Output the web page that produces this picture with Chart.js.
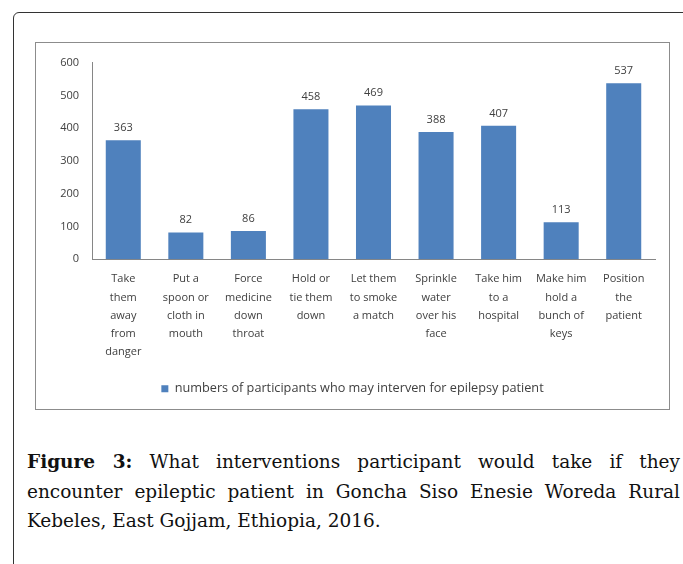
<!DOCTYPE html>
<html>
<head>
<meta charset="utf-8">
<script src="https://cdn.jsdelivr.net/npm/chart.js@4"></script>
<style>
  body { margin: 0; background: #fff; width: 683px; height: 564px; overflow: hidden; position: relative; }
  .frame { position: absolute; left: 13px; top: 12px; width: 720px; height: 600px;
           border: 1.5px solid #333; border-top-left-radius: 6px; }
  .chartbox { position: absolute; left: 35px; top: 42px; width: 633px; height: 366px;
              border: 1px solid #8c8c8c; }
  .caption { position: absolute; left: 27px; top: 447px; width: 653px;
             font-family: "DejaVu Serif", serif; font-size: 18.5px; line-height: 29.5px;
             text-align: justify; color: #111; }
  .caption b { font-weight: bold; }
</style>
</head>
<body>
<div class="frame"></div>
<div class="chartbox"><canvas id="chart" width="633" height="366"></canvas></div>
<div class="caption"><b>Figure 3:</b> What interventions participant would take if they encounter epileptic patient in Goncha Siso Enesie Woreda Rural Kebeles, East Gojjam, Ethiopia, 2016.</div>
<script>
const categories = [
  ["Take", "them", "away", "from", "danger"],
  ["Put a", "spoon or", "cloth in", "mouth"],
  ["Force", "medicine", "down", "throat"],
  ["Hold or", "tie them", "down"],
  ["Let them", "to smoke", "a match"],
  ["Sprinkle", "water", "over his", "face"],
  ["Take him", "to a", "hospital"],
  ["Make him", "hold a", "bunch of", "keys"],
  ["Position", "the", "patient"]
];
const participants = [363, 82, 86, 458, 469, 388, 407, 113, 537];
const seriesLabel = "numbers of participants who may interven for epilepsy patient";

const fontFamily = "'Open Sans', Lato, sans-serif";

// value labels above each bar
const valueLabels = {
  id: "valueLabels",
  afterDatasetsDraw(chart) {
    const ctx = chart.ctx;
    const meta = chart.getDatasetMeta(0);
    ctx.save();
    ctx.font = "11px " + fontFamily;
    ctx.fillStyle = "#404040";
    ctx.textAlign = "center";
    ctx.textBaseline = "bottom";
    meta.data.forEach((bar, i) => {
      ctx.fillText(participants[i], bar.x, bar.y - 7);
    });
    ctx.restore();
  }
};

const ctx = document.getElementById("chart").getContext("2d");
new Chart(ctx, {
  type: "bar",
  data: {
    labels: categories,
    datasets: [{
      label: seriesLabel,
      data: participants,
      backgroundColor: "#4F81BD",
      categoryPercentage: 1,
      barPercentage: 0.56
    }]
  },
  options: {
    responsive: false,
    animation: false,
    layout: { padding: { top: 18, right: 14, bottom: 4, left: 14 } },
    plugins: {
      legend: {
        position: "bottom",
        labels: {
          boxWidth: 7, boxHeight: 7,
          color: "#404040",
          font: { family: fontFamily, size: 12.7 }
        }
      },
      tooltip: { enabled: false }
    },
    scales: {
      x: {
        grid: { display: false, drawTicks: false },
        border: { color: "#868686" },
        ticks: {
          color: "#404040", padding: 11, maxRotation: 0, autoSkip: false,
          font: { family: fontFamily, size: 11, lineHeight: 1.64 }
        },
        afterFit(scale) { scale.height = 113; }
      },
      y: {
        min: 0, max: 600,
        grid: { display: false, drawTicks: false },
        border: { color: "#868686" },
        ticks: {
          stepSize: 100, color: "#404040", padding: 13,
          font: { family: fontFamily, size: 11 }
        },
        afterFit(scale) { scale.width = 42; }
      }
    }
  },
  plugins: [valueLabels]
});
</script>
</body>
</html>
